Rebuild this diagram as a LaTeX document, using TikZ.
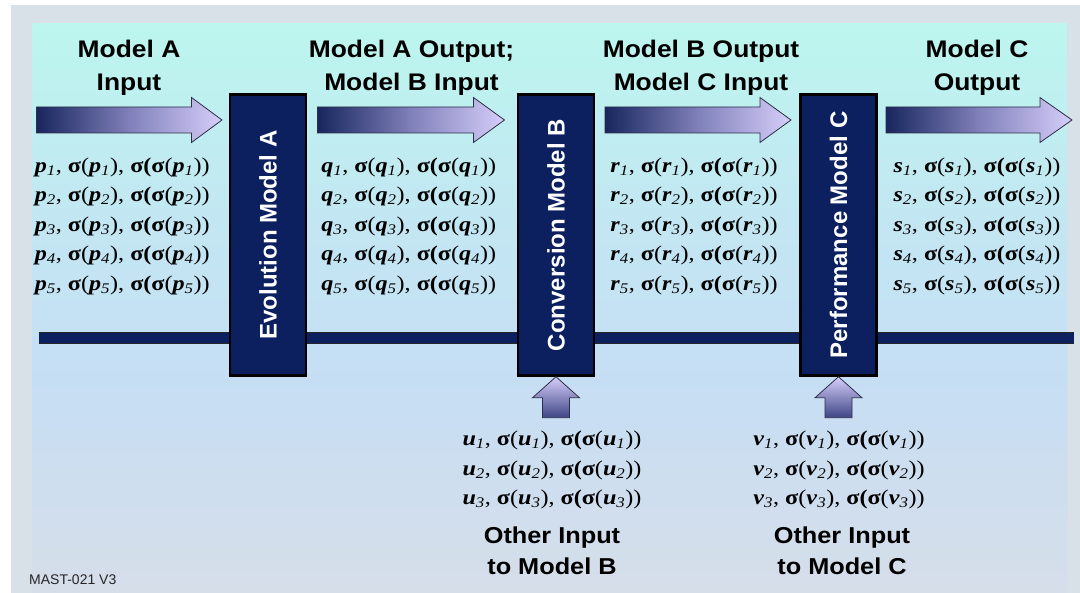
\documentclass[tikz,border=0pt]{standalone}
\usepackage{fontspec}
\setmainfont{Liberation Serif}
\newfontfamily\mathfnt{Liberation Serif}[FakeStretch=1.15]
\newfontfamily\headfnt{Liberation Sans}[FakeStretch=1.1]
\newfontfamily\boxfnt{Liberation Sans}
\usetikzlibrary{calc}

\definecolor{pagebg}{RGB}{216,224,232}
\definecolor{skytop}{RGB}{188,246,238}
\definecolor{skymid}{RGB}{194,232,242}
\definecolor{skylow}{RGB}{198,222,244}
\definecolor{skybot}{RGB}{214,222,233}
\definecolor{navy}{RGB}{12,31,94}
\definecolor{flowdark}{RGB}{24,38,94}
\definecolor{flowmid}{RGB}{128,128,186}
\definecolor{flowlight}{RGB}{214,206,250}
\definecolor{flowedge}{RGB}{46,46,70}
\definecolor{feeddark}{RGB}{62,70,134}

% variable with subscript, sigma, and the triple "x, s(x), s(s(x))"
\newcommand\sv[2]{\textbf{\textit{#1}}\textsubscript{\textit{#2}}}
\newcommand\sg{\textbf{σ}}
\newcommand\trip[2]{\sv{#1}{#2}, \sg(\sv{#1}{#2}), \sg\textbf{(}\sg(\sv{#1}{#2}))}

\begin{document}
\begin{tikzpicture}[x=1pt,y=-1pt,
  modelbox/.style={rotate=90, draw=black, line width=2.5pt, fill=navy,
    text=white, font=\boxfnt\bfseries\fontsize{24}{28}\selectfont,
    minimum width=281pt, minimum height=76pt, inner sep=0pt},
  heading/.style={anchor=north, align=center, inner sep=0pt,
    font=\headfnt\bfseries\fontsize{24}{33}\selectfont},
  feedlabel/.style={anchor=north, align=center, inner sep=0pt,
    font=\headfnt\bfseries\fontsize{23}{31}\selectfont},
  varblock/.style={anchor=north, align=center, inner sep=0pt,
    font=\mathfnt\fontsize{21}{29.5}\selectfont},
  flow/.style={draw=flowedge, line width=0.8pt, left color=flowdark,
    right color=flowlight, middle color=flowmid},
  feed/.style={draw=flowedge, line width=0.8pt, top color=flowlight,
    bottom color=feeddark},
  spine/.style={draw=black!85, line width=0.8pt, double=navy,
    double distance=10.5pt}
]
\useasboundingbox (0,0) rectangle (1080,593);

% page and panel background
\fill[white] (0,0) rectangle (1080,593);
\fill[pagebg] (11,5) rectangle (1080,593);
\shade[top color=skytop, bottom color=skymid] (32.7,24) rectangle (1067,201);
\shade[top color=skymid, bottom color=skylow] (32.7,200) rectangle (1067,381);
\shade[top color=skylow, bottom color=skybot] (32.7,380) rectangle (1067,593);

% horizontal spine through the three models
\coordinate (spineL) at (38.5,338);
\coordinate (spineR) at (1074,338);
\draw[spine] (spineL) -- (spineR);

% the three models (text reads upwards, so the box's west side is at the bottom)
\node[modelbox] (evo)  at (268,235)   {Evolution Model A};
\node[modelbox] (conv) at (556,235)   {Conversion Model B};
\node[modelbox] (perf) at (838.5,235) {Performance Model C};

% block arrows along the chain
\draw[flow] (36.5,107) -- (191.5,107) -- (191.5,97.5) -- (222,120)
  -- (191.5,142.5) -- (191.5,133) -- (36.5,133) -- cycle;
\draw[flow] (317.5,107) -- (473.5,107) -- (473.5,97.5) -- (504.5,120)
  -- (473.5,142.5) -- (473.5,133) -- (317.5,133) -- cycle;
\draw[flow] (605,107) -- (760,107) -- (760,97.5) -- (791,120)
  -- (760,142.5) -- (760,133) -- (605,133) -- cycle;
\draw[flow] (886,107) -- (1040,107) -- (1040,97.5) -- (1072,120)
  -- (1040,142.5) -- (1040,133) -- (886,133) -- cycle;

% side inputs feeding models B and C from below
\begin{scope}[shift={(conv.west)}]
  \draw[feed] (0,0) -- (23.5,21) -- (13.5,21) -- (13.5,41) -- (-13.5,41)
    -- (-13.5,21) -- (-23.5,21) -- cycle;
\end{scope}
\begin{scope}[shift={(perf.west)}]
  \draw[feed] (0,0) -- (23.5,21) -- (13.5,21) -- (13.5,41) -- (-13.5,41)
    -- (-13.5,21) -- (-23.5,21) -- cycle;
\end{scope}

% headings
\node[heading] (hA)  at (129,39.5)   {Model A\\Input};
\node[heading] (hAB) at (411.5,39.5) {Model A Output;\\Model B Input};
\node[heading] (hBC) at (701,39.5)   {Model B Output\\Model C Input};
\node[heading] (hC)  at (977,39.5)   {Model C\\Output};

% variables passed between models
\node[varblock] (pset) at (122.3,157.5)
  {\trip{p}{1}\\\trip{p}{2}\\\trip{p}{3}\\\trip{p}{4}\\\trip{p}{5}};
\node[varblock] (qset) at (408.8,157.5)
  {\trip{q}{1}\\\trip{q}{2}\\\trip{q}{3}\\\trip{q}{4}\\\trip{q}{5}};
\node[varblock] (rset) at (694,157.5)
  {\trip{r}{1}\\\trip{r}{2}\\\trip{r}{3}\\\trip{r}{4}\\\trip{r}{5}};
\node[varblock] (sset) at (977,157.5)
  {\trip{s}{1}\\\trip{s}{2}\\\trip{s}{3}\\\trip{s}{4}\\\trip{s}{5}};

% side input variables
\node[varblock] (uset) at (552,431)
  {\trip{u}{1}\\\trip{u}{2}\\\trip{u}{3}};
\node[varblock] (vset) at (839,431)
  {\trip{v}{1}\\\trip{v}{2}\\\trip{v}{3}};

\node[feedlabel] (otherB) at (552,527) {Other Input\\to Model B};
\node[feedlabel] (otherC) at (842,527) {Other Input\\to Model C};

% document tag
\node[anchor=base west, inner sep=0pt, text=black!85,
  font=\boxfnt\fontsize{14}{16}\selectfont] (tag) at (29,585) {MAST-021 V3};
\end{tikzpicture}
\end{document}
